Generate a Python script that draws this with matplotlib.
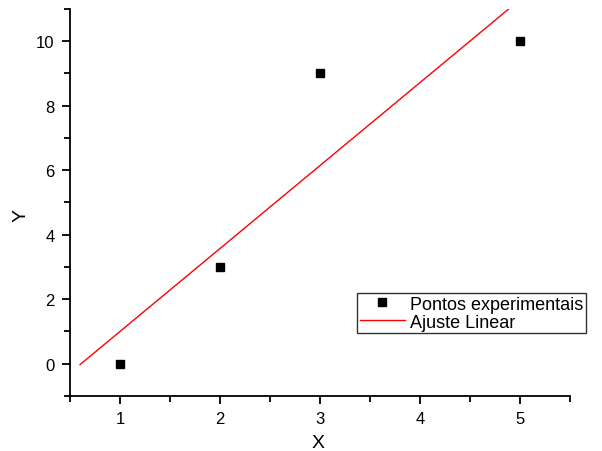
import numpy as np
import matplotlib
matplotlib.use("Agg")
import matplotlib.pyplot as plt
from matplotlib.ticker import MultipleLocator

plt.rcParams['font.family'] = ['Liberation Sans', 'DejaVu Sans']

x = [1, 2, 3, 5]
y = [0, 3, 9, 10]

# ajuste linear
a, b = np.polyfit(x, y, 1)
xf = np.linspace(0.6, 5.4, 50)
yf = a * xf + b

fig = plt.figure(figsize=(6.02, 4.52), dpi=100)
ax = fig.add_axes([0.1163, 0.1217, 0.8306, 0.8566])

ax.plot(x, y, 's', color='black', markersize=6, label="Pontos experimentais")
ax.plot(xf, yf, '-', color='red', linewidth=1, label="Ajuste Linear")

ax.set_xlim(0.5, 5.5)
ax.set_ylim(-1, 11)
ax.xaxis.set_major_locator(MultipleLocator(1))
ax.xaxis.set_minor_locator(MultipleLocator(0.5))
ax.yaxis.set_major_locator(MultipleLocator(2))
ax.yaxis.set_minor_locator(MultipleLocator(1))

for s in ['top', 'right']:
    ax.spines[s].set_visible(False)
for s in ['left', 'bottom']:
    ax.spines[s].set_linewidth(1.3)
ax.tick_params(which='major', direction='out', length=6, width=1.3, labelsize=12, pad=5)
ax.tick_params(which='minor', direction='out', length=4, width=1.3)

ax.set_xlabel("X", fontsize=14)
ax.set_ylabel("Y", fontsize=14)
ax.xaxis.set_label_coords(0.496, -0.121)
ax.yaxis.set_label_coords(-0.098, 0.47)
ax.xaxis.label.set_va('center')
ax.yaxis.label.set_va('center')

leg = ax.legend(loc='upper left', bbox_to_anchor=(357 / 602, 1 - 294 / 452),
                bbox_transform=fig.transFigure, fontsize=13, frameon=True,
                fancybox=False, edgecolor='black', borderpad=0.15,
                labelspacing=0.05, handlelength=2.5, handletextpad=0.3,
                borderaxespad=0)
leg.get_frame().set_linewidth(1)

fig.savefig("out.png", dpi=100)
